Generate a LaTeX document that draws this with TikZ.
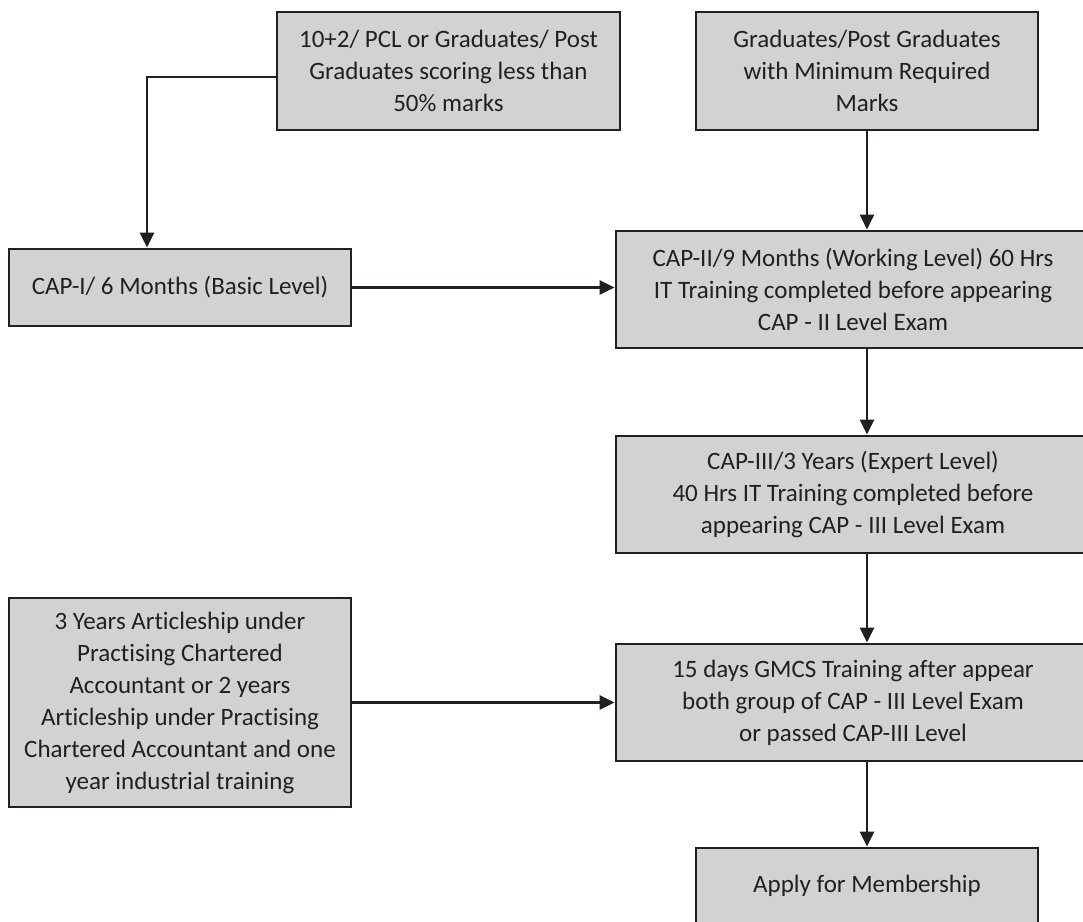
\documentclass[tikz,border=0pt]{standalone}
\usepackage{fontspec}
\setmainfont[Ligatures=NoCommon]{Carlito}
\usetikzlibrary{arrows.meta}
\definecolor{boxfill}{HTML}{D1D2D4}
\definecolor{ink}{HTML}{231F20}
\begin{document}
\begin{tikzpicture}[x=1pt,y=-1pt,
  flowbox/.style={draw=ink, line width=2.8pt, fill=boxfill, inner sep=0pt,
    align=center, font=\fontsize{25}{32}\selectfont, text=ink},
  link/.style={draw=ink, line width=2.8pt, -{Triangle[length=15pt,width=14pt]}}]
\useasboundingbox (0,0) rectangle (1083,921);
\clip (0,0) rectangle (1083,921);
\fill[white] (0,0) rectangle (1083,921);
% boxes
\node[flowbox, minimum width=343pt, minimum height=118pt] (b1) at (448.5,71)
  {10+2/ PCL or Graduates/ Post\\Graduates scoring less than\\50\% marks};
\node[flowbox, minimum width=342pt, minimum height=118pt] (b2) at (867,71)
  {Graduates/Post Graduates\\with Minimum Required\\Marks};
\node[flowbox, minimum width=342pt, minimum height=77pt] (c1) at (180,287.5)
  {CAP-I/ 6 Months (Basic Level)};
\node[flowbox, minimum width=474pt, minimum height=117pt] (c2) at (853,289.5)
  {CAP-II/9 Months (Working Level) 60 Hrs\\IT Training completed before appearing\\CAP - II Level Exam};
\node[flowbox, minimum width=474pt, minimum height=117pt] (c3) at (853,494.5)
  {CAP-III/3 Years (Expert Level)\\40 Hrs IT Training completed before\\appearing CAP - III Level Exam};
\node[flowbox, minimum width=342pt, minimum height=209pt] (art) at (180,702.5)
  {3 Years Articleship under\\Practising Chartered\\Accountant or 2 years\\Articleship under Practising\\Chartered Accountant and one\\year industrial training};
\node[flowbox, minimum width=474pt, minimum height=117pt] (gm) at (853,702.5)
  {15 days GMCS Training after appear\\both group of CAP - III Level Exam\\or passed CAP-III Level};
\node[flowbox, minimum width=342pt, minimum height=76pt] (ap) at (867,886)
  {Apply for Membership};
% connectors
\coordinate (k1) at (147,77);
\draw[link] (b1.west |- k1) -- (k1) -- (k1 |- c1.north);
\draw[link] (b2.south) -- (b2.south |- c2.north);
\draw[link] (c1.east) -- (c2.west |- c1.east);
\draw[link] (b2.south |- c2.south) -- (b2.south |- c3.north);
\draw[link] (b2.south |- c3.south) -- (b2.south |- gm.north);
\draw[link] (art.east) -- (gm.west |- art.east);
\draw[link] (b2.south |- gm.south) -- (ap.north);
\end{tikzpicture}
\end{document}
